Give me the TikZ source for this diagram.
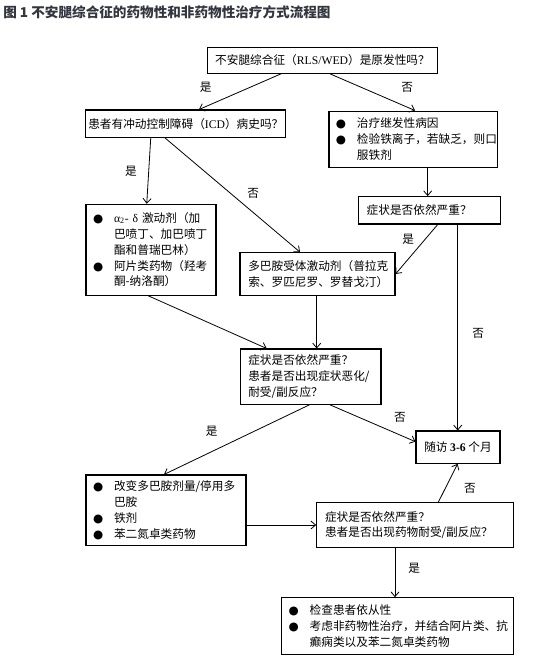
\documentclass[tikz,border=0pt]{standalone}
\usepackage{fontspec}
\setmainfont{Noto Sans CJK SC}
\newfontfamily\lat{Liberation Serif}
\newfontfamily\djv{DejaVu Sans}
\usetikzlibrary{arrows.meta}
\definecolor{titlecol}{HTML}{33363F}
\newcommand\bx{\fontsize{8.75}{11.85}\selectfont}
\newcommand\bul[1]{\makebox[15.75pt][l]{\djv ●}\mbox{#1}}
\newcommand\cnt[1]{\hspace*{15.75pt}\mbox{#1}}
\begin{document}
\begin{tikzpicture}[x=0.75pt,y=-0.75pt,
  box/.style={draw, line width=0.8pt, inner sep=0pt, font=\bx},
  lbox/.style={box, align=left},
  cbox/.style={box, align=center},
  arr/.style={line width=0.6pt, -{Straight Barb[length=3.5pt,width=6pt]}},
  lab/.style={inner sep=0pt, font=\bx}]
\useasboundingbox[fill=white] (0,0) rectangle (537,663);

\node[anchor=west, inner sep=0pt, text=titlecol, font=\fontsize{10.2}{12}\selectfont\bfseries] (title) at (3,12)
  {图 1 不安腿综合征的药物性和非药物性治疗方式流程图};

\node[cbox, minimum width=172.8pt, minimum height=19.5pt] (b1) at (322.5,60.3)
  {不安腿综合征（{\lat RLS/WED}）是原发性吗？};
\node[cbox, minimum width=149.8pt, minimum height=20.5pt] (b2) at (185.8,123.7)
  {患者有冲动控制障碍（{\lat ICD}）病史吗？};
\node[lbox, minimum width=126.5pt, minimum height=42.2pt, text width=116pt] (b3) at (413.3,139.2)
  {\bul{治疗继发性病因}\\ \bul{检验铁离子，若缺乏，则口}\\ \cnt{服铁剂}};
\node[lbox, minimum width=97.5pt, minimum height=68.25pt, text width=87pt] (ad) at (151,249.8)
  {\bul{{\lat α}\textsubscript{\lat 2}{\lat -}~{\lat δ}~激动剂（加}\\ \cnt{巴喷丁、加巴喷丁}\\ \cnt{酯和普瑞巴林）}\\ \bul{阿片类药物（羟考}\\ \cnt{酮-纳洛酮）}};
\node[lbox, minimum width=116.25pt, minimum height=32pt, text width=103.8pt] (dop) at (317.5,274)
  {多巴胺受体激动剂（普拉克\\ 索、罗匹尼罗、罗替戈汀）};
\node[lbox, minimum width=106.3pt, minimum height=20.5pt, text width=93.7pt] (sev) at (429.2,210.3)
  {症状是否依然严重？};
\node[lbox, minimum width=105.2pt, minimum height=41.5pt, text width=93.8pt] (mid) at (310.85,376.65)
  {症状是否依然严重？\\ 患者是否出现症状恶化/\\ 耐受/副反应？};
\node[cbox, minimum width=63pt, minimum height=24.2pt] (fu) at (458,447.15)
  {随访~{\lat\bfseries 3-6}~个月};
\node[lbox, minimum width=120pt, minimum height=53pt, text width=109.5pt] (chg) at (166,510.35)
  {\bul{改变多巴胺剂量/停用多}\\ \cnt{巴胺}\\ \bul{铁剂}\\ \bul{苯二氮卓类药物}};
\node[lbox, minimum width=147.5pt, minimum height=33.5pt, text width=135pt] (br) at (415,525)
  {症状是否依然严重？\\ 患者是否出现药物耐受/副反应？};
\node[lbox, minimum width=173.7pt, minimum height=42.5pt, text width=163.2pt] (bot) at (397.5,626)
  {\bul{检查患者依从性}\\ \bul{考虑非药物性治疗，并结合阿片类、抗}\\ \cnt{癫痫类以及苯二氮卓类药物}};

% connectors
\draw[arr] ([xshift=-31.1pt]b1.south) -- ([xshift=9.9pt]b2.north);
\draw[arr] ([xshift=5.6pt]b1.south) -- ([xshift=1.3pt]b3.north);
\draw[arr] ([xshift=-26.3pt]b2.south) -- ([xshift=-3.2pt]ad.north);
\draw[arr] ([xshift=-15.6pt]b2.south) -- ([xshift=-13.1pt]dop.north);
\draw[arr] ([xshift=10.8pt]b3.south) -- ([xshift=10.8pt]b3.south |- sev.north);
\draw[arr] ([xshift=6.4pt]sev.south) -- (dop.east);
\draw[arr] ([xshift=21.4pt]sev.south) -- ([xshift=21.4pt]sev.south |- fu.north);
\draw[arr] ([xshift=-2pt]ad.south) -- ([xshift=-33.2pt]mid.north);
\draw[arr] ([xshift=-0.6pt]dop.south) -- ([xshift=-0.6pt]dop.south |- mid.north);
\draw[arr] ([xshift=14.4pt]mid.south) -- ([yshift=4.1pt]fu.west);
\draw[arr] ([xshift=-1.1pt]mid.south) -- ([xshift=-1.5pt]chg.north);
\draw[arr] (br.west -| chg.east) -- (br.west);
\draw[arr] ([xshift=17.5pt]br.north) -- ([xshift=-0.3pt]fu.south);
\draw[arr] ([xshift=-15pt]br.south) -- ([xshift=-15pt]br.south |- bot.north);

% labels
\node[lab] (l1) at (205.7,87.3) {是};
\node[lab] (l2) at (407.3,87.3) {否};
\node[lab] (l3) at (131,171.7) {是};
\node[lab] (l4) at (253.3,193.3) {否};
\node[lab] (l5) at (408.3,239.3) {是};
\node[lab] (l6) at (478.3,333.3) {否};
\node[lab] (l7) at (400,417.3) {否};
\node[lab] (l8) at (211.7,431.7) {是};
\node[lab] (l9) at (470,488.3) {否};
\node[lab] (l10) at (414.3,568.3) {是};
\end{tikzpicture}
\end{document}
